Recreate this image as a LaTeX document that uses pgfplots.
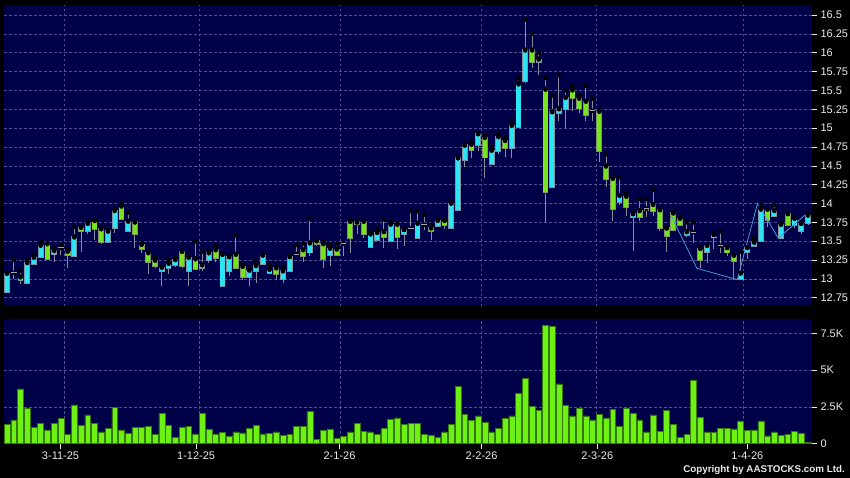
\documentclass[border=0pt]{standalone}
\usepackage{fontspec}
\setmainfont{Liberation Sans}
\usepackage{pgfplots}
\pgfplotsset{compat=1.18}
\usepackage{pgfplotstable}

\definecolor{bgnavy}{RGB}{0,0,72}
\definecolor{gridc}{RGB}{80,80,150}
\definecolor{upc}{RGB}{45,228,242}
\definecolor{upedge}{RGB}{125,150,165}
\definecolor{dnc}{RGB}{120,228,30}
\definecolor{dnedge}{RGB}{125,150,105}
\definecolor{wick}{RGB}{140,140,160}
\definecolor{dojic}{RGB}{165,165,175}
\definecolor{volc}{RGB}{110,240,20}
\definecolor{voledge}{RGB}{50,120,10}
\definecolor{zig}{RGB}{70,150,220}
\definecolor{txt}{RGB}{235,235,235}

% candles: x = trading day, o h l c
\pgfplotstableread{
x o h l c
0 12.83 13.07 12.82 13.07
2 12.98 13.11 12.93 13.02
3 12.94 13.25 12.94 13.21
4 13.20 13.31 13.20 13.28
5 13.29 13.50 13.28 13.44
7 13.33 13.41 13.22 13.37
10 13.31 13.69 13.31 13.55
12 13.63 13.75 13.59 13.73
15 13.49 13.63 13.47 13.63
16 13.67 13.93 13.61 13.90
18 13.63 13.88 13.63 13.76
23 13.10 13.15 12.90 13.15
24 13.14 13.26 13.07 13.20
25 13.19 13.29 13.16 13.25
27 13.10 13.29 12.90 13.28
29 13.14 13.36 13.10 13.18
30 13.25 13.37 13.21 13.34
32 12.90 13.32 12.90 13.32
33 13.10 13.29 13.04 13.29
36 13.03 13.14 12.91 13.11
37 13.10 13.23 12.95 13.17
38 13.20 13.31 13.20 13.31
39 13.08 13.19 13.08 13.12
41 13.00 13.16 12.94 13.10
42 13.11 13.29 13.11 13.29
45 13.35 13.80 13.31 13.47
48 13.32 13.46 13.17 13.40
54 13.42 13.63 13.42 13.59
55 13.51 13.66 13.51 13.61
57 13.50 13.75 13.50 13.72
59 13.59 13.65 13.43 13.65
61 13.54 13.90 13.54 13.73
64 13.70 13.78 13.70 13.77
66 13.67 14.00 13.67 14.00
67 13.91 14.60 13.91 14.60
68 14.58 14.77 14.49 14.77
70 14.78 14.92 14.69 14.92
72 14.52 14.75 14.52 14.70
73 14.69 14.91 14.66 14.88
75 14.74 15.08 14.60 15.03
76 15.02 15.66 15.02 15.58
77 15.63 16.44 15.60 16.03
79 15.88 16.00 15.70 15.91
81 14.22 15.43 14.22 15.21
82 15.20 15.70 15.10 15.25
83 15.25 15.50 15.00 15.40
91 14.02 14.35 13.98 14.10
93 13.82 13.86 13.37 13.86
101 13.58 13.75 13.55 13.62
104 13.36 13.44 13.21 13.44
109 13.00 13.36 13.00 13.07
110 13.36 13.41 13.26 13.41
111 13.44 13.54 13.44 13.48
112 13.50 13.98 13.50 13.92
114 13.83 13.98 13.83 13.90
115 13.54 13.72 13.54 13.72
117 13.72 13.80 13.67 13.80
118 13.63 13.73 13.60 13.73
119 13.74 13.87 13.72 13.84
}\up

\pgfplotstableread{
x o h l c
6 13.46 13.47 13.26 13.26
9 13.36 13.39 13.14 13.32
11 13.68 13.68 13.36 13.63
13 13.77 13.77 13.52 13.66
14 13.66 13.66 13.46 13.49
17 13.96 14.00 13.79 13.80
19 13.75 13.75 13.41 13.60
20 13.45 13.47 13.35 13.40
21 13.34 13.36 13.07 13.23
22 13.24 13.28 13.15 13.17
26 13.36 13.36 13.15 13.17
28 13.26 13.50 13.12 13.13
31 13.38 13.45 13.23 13.28
34 13.32 13.58 13.15 13.15
35 13.16 13.19 12.99 13.02
40 13.14 13.17 12.99 13.06
44 13.38 13.47 13.23 13.31
46 13.50 13.50 13.44 13.46
47 13.46 13.50 13.15 13.26
49 13.39 13.47 13.30 13.32
51 13.76 13.76 13.35 13.54
52 13.75 13.75 13.59 13.73
53 13.76 13.76 13.54 13.59
56 13.62 13.79 13.41 13.55
58 13.72 13.72 13.39 13.55
63 13.67 13.72 13.51 13.63
65 13.77 13.77 13.66 13.71
69 14.78 14.81 14.61 14.71
71 14.87 14.91 14.34 14.61
74 14.83 14.87 14.62 14.73
78 16.03 16.25 15.80 15.88
80 15.51 15.67 13.74 14.15
84 15.50 15.56 15.23 15.40
85 15.39 15.44 15.20 15.26
86 15.35 15.56 15.10 15.18
88 15.22 15.22 14.55 14.70
89 14.49 14.65 14.22 14.33
90 14.33 14.33 13.77 13.93
92 14.09 14.14 13.83 13.96
94 13.90 14.06 13.77 13.82
96 13.98 14.18 13.83 13.90
97 13.91 13.92 13.63 13.67
98 13.67 13.67 13.36 13.57
99 13.87 13.87 13.65 13.65
100 13.80 13.80 13.72 13.72
103 13.40 13.40 13.15 13.25
107 13.41 13.41 13.30 13.35
108 13.31 13.31 12.99 13.24
113 13.92 13.92 13.69 13.78
116 13.86 13.86 13.72 13.72
}\down

\pgfplotstableread{
x o h l c
1 13.08 13.25 13.00 13.08
8 13.41 13.45 13.32 13.41
43 13.33 13.45 13.31 13.33
50 13.47 13.47 13.31 13.47
60 13.67 13.90 13.65 13.67
62 13.72 13.85 13.65 13.72
87 15.23 15.39 15.10 15.23
95 13.93 14.06 13.82 13.90
102 13.62 13.75 13.47 13.62
105 13.55 13.61 13.39 13.58
106 13.44 13.63 13.35 13.44
}\flat

\pgfplotstableread{
x v
0 1338
1 1610
2 3716
3 2425
4 1134
5 1406
6 931
7 1360
8 1700
9 613
10 2629
11 1250
12 1950
13 1406
14 795
15 1066
16 2473
17 931
18 681
19 1114
20 1134
21 1202
22 613
23 2065
24 1225
25 455
26 1114
27 1157
28 659
29 2085
30 953
31 659
32 774
33 477
34 795
35 727
36 1021
37 1250
38 659
39 681
40 795
41 570
42 613
43 1157
44 1157
45 2176
46 274
47 885
48 999
49 387
50 477
51 795
52 1406
53 842
54 795
55 613
56 1021
57 1658
58 1746
59 1293
60 1360
61 1360
62 636
63 545
64 433
65 795
66 1338
67 3899
68 2017
69 1590
70 1882
71 1429
72 795
73 1021
74 1725
75 1882
76 3424
77 4443
78 2541
79 2289
80 8043
81 7975
82 4056
83 2584
84 1882
85 2425
86 1882
87 1610
88 2017
89 1746
90 2312
91 1202
92 2402
93 2065
94 1610
95 795
96 1950
97 842
98 2267
99 1293
100 455
101 636
102 4305
103 1793
104 795
105 749
106 1021
107 1021
108 999
109 1542
110 885
111 931
112 1542
113 523
114 795
115 570
116 613
117 842
118 704
119 115
}\vol

\pgfplotsset{
  panel/.style={
    scale only axis, anchor=south west, width=808pt,
    xmin=-0.45, xmax=119.6,
    axis background/.style={fill=bgnavy},
    axis line style={draw=none},
    grid style={draw=gridc, dash pattern=on 2.5pt off 2.5pt, line width=0.6pt},
    tick align=outside,
    ytick pos=right, yticklabel pos=right,
    major tick length=5pt,
    major y tick style={draw=txt, line width=0.6pt},
    tick label style={font=\fontsize{11}{13}\selectfont, text=txt},
  },
  wicks/.style={only marks, mark=none, forget plot,
    error bars/.cd, y dir=minus, y explicit, error mark=none,
    error bar style={draw=wick, line width=0.9pt}},
  body/.style 2 args={only marks, mark=none, forget plot,
    error bars/.cd, y dir=minus, y explicit, error mark=none,
    error bar style={draw=#1, line width=#2}},
}

\begin{document}
\begin{tikzpicture}
\path[use as bounding box] (0,0) rectangle (850pt,478pt);
\fill[black] (0,0) rectangle (850pt,478pt);

% price panel
\begin{axis}[panel,
  at={(4pt,171.5pt)}, height=301.5pt,
  ymin=12.634, ymax=16.633,
  xtick={8.5,28.6,49.5,70.5,87.5,109.4}, xticklabels={},
  major x tick style={draw=none},
  xmajorgrids, ymajorgrids,
  ytick={12.75,13,13.25,13.5,13.75,14,14.25,14.5,14.75,15,15.25,15.5,15.75,16,16.25,16.5},
  /pgf/number format/assume math mode=true,
  /pgf/number format/precision=2,
]
\addplot[wicks] table[x=x, y=h, y error minus expr={\thisrow{h}-\thisrow{l}}] {\up};
\addplot[wicks] table[x=x, y=h, y error minus expr={\thisrow{h}-\thisrow{l}}] {\down};
\addplot[wicks] table[x=x, y=h, y error minus expr={\thisrow{h}-\thisrow{l}}] {\flat};
\addplot[body={upedge}{5.8pt}] table[x=x, y expr={max(\thisrow{o},\thisrow{c})+0.013}, y error minus expr={abs(\thisrow{o}-\thisrow{c})+0.026}] {\up};
\addplot[body={upc}{4.2pt}] table[x=x, y expr={max(\thisrow{o},\thisrow{c})}, y error minus expr={abs(\thisrow{o}-\thisrow{c})}] {\up};
\addplot[body={dnedge}{5.8pt}] table[x=x, y expr={max(\thisrow{o},\thisrow{c})+0.013}, y error minus expr={abs(\thisrow{o}-\thisrow{c})+0.026}] {\down};
\addplot[body={dnc}{4.2pt}] table[x=x, y expr={max(\thisrow{o},\thisrow{c})}, y error minus expr={abs(\thisrow{o}-\thisrow{c})}] {\down};
\addplot[body={dojic}{5.0pt}] table[x=x, y expr={max(\thisrow{o},\thisrow{c})}, y error minus expr={abs(\thisrow{o}-\thisrow{c})}] {\flat};
\addplot[only marks, mark=-, mark size=2.9pt, mark options={draw=dojic, line width=1pt}] table[x=x, y=o] {\flat};
% zigzag line
\addplot[zig, line width=0.8pt, mark=none] coordinates {(98.6,13.85) (102.5,13.14) (108.5,12.99) (111.5,14.0) (114.6,13.54) (118.6,13.85)};
\end{axis}

% volume panel
\begin{axis}[panel,
  at={(4pt,34.3pt)}, height=124.7pt,
  ymin=0, ymax=8471,
  xtick pos=bottom,
  xtick={7.95,28.1,49.4,70.5,87.7,110.0},
  xticklabels={3-11-25,1-12-25,2-1-26,2-2-26,2-3-26,1-4-26},
  major x tick style={draw=txt, line width=0.6pt},
  extra x ticks={8.5,28.6,49.5,70.5,87.5,109.4}, extra x tick labels={},
  extra x tick style={grid=major, major tick length=0pt},
  ytick={0,2500,5000,7500}, yticklabels={0,2.5K,5K,7.5K},
  ymajorgrids,
]
\addplot[ybar, bar width=5.9pt, fill=volc, draw=voledge, line width=0.5pt] table[x=x, y=v] {\vol};
\end{axis}

\node[anchor=south east, inner sep=0pt, text=txt, font=\bfseries\fontsize{9.8}{11}\selectfont] at (845pt,3pt) {Copyright by AASTOCKS.com Ltd.};
\end{tikzpicture}
\end{document}
